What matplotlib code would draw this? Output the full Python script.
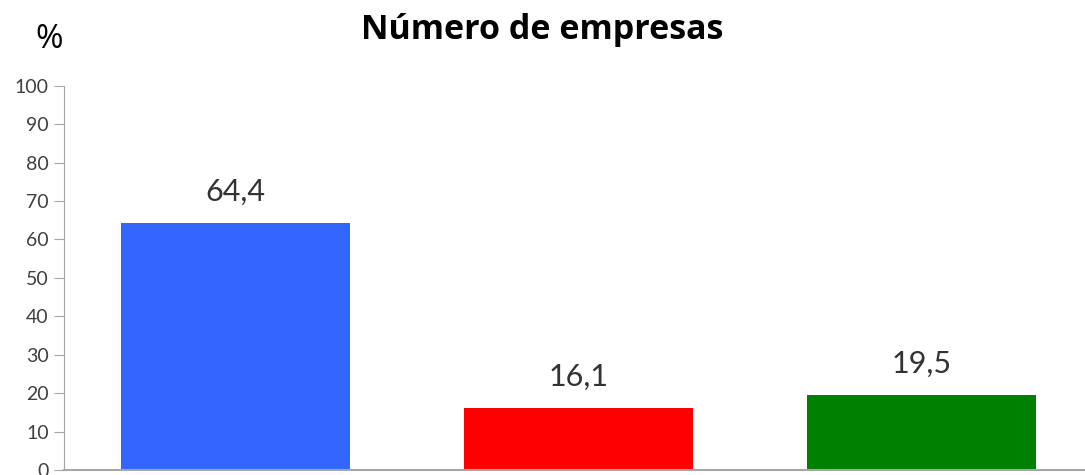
import matplotlib
matplotlib.use("Agg")
import matplotlib.pyplot as plt

categories = ["A", "B", "C"]
values = [64.4, 16.1, 19.5]
colors = ["#3366FF", "#FF0000", "#008000"]
value_labels = ["64,4", "16,1", "19,5"]
yticks = [0, 10, 20, 30, 40, 50, 60, 70, 80, 90, 100]

plt.rcParams['font.family'] = ['Lato', 'DejaVu Sans']

W, H = 1085, 475
fig = plt.figure(figsize=(W / 100, H / 100), dpi=100)
left, right, bottom, top = 64, 1093, 470, 85.7
ax = fig.add_axes([left / W, 1 - bottom / H, (right - left) / W, (bottom - top) / H])

x = range(len(categories))
ax.bar(x, values, width=0.667, color=colors)
ax.set_xlim(-0.5, 2.5)
ax.set_ylim(0, 100)
ax.set_yticks(yticks)
ax.set_yticklabels([str(t) for t in yticks], fontsize=14, color="#404040")
ax.set_xticks([])
for s in ["top", "right"]:
    ax.spines[s].set_visible(False)
ax.spines["left"].set_color("#A6A6A6")
ax.spines["bottom"].set_color("#A6A6A6")
ax.spines["bottom"].set_linewidth(1.5)
ax.tick_params(axis="y", length=7, color="#A6A6A6", pad=4)

for xi, v, lab in zip(x, values, value_labels):
    ax.annotate(lab, (xi, v), xytext=(0, 16), textcoords="offset points",
                ha="center", va="baseline", fontsize=22, color="#333333",
                annotation_clip=False)

fig.text(542.5 / W, 1 - 39 / H, "Número de empresas", ha="center", va="baseline",
         fontsize=24.5, fontweight="bold", color="black",
         family=["Open Sans", "DejaVu Sans"])
fig.text(49.5 / W, 1 - 48 / H, "%", ha="center", va="baseline", fontsize=24,
         color="black", family=["Open Sans", "DejaVu Sans"])

fig.savefig("out.png", dpi=100)
